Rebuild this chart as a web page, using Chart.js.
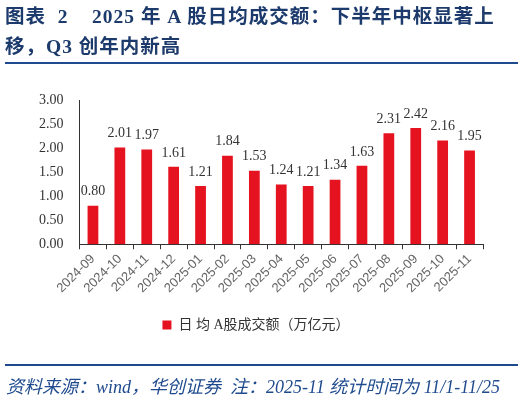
<!DOCTYPE html>
<html>
<head>
<meta charset="utf-8">
<script src="https://cdn.jsdelivr.net/npm/chart.js@4"></script>
<style>
  html, body { margin: 0; padding: 0; background: #fff; }
  #wrap { position: relative; width: 524px; height: 400px; overflow: hidden; }
  #titulo {
    position: absolute; left: 5px; top: 2px; width: 519px;
    font-family: "Liberation Serif", "Noto Sans CJK SC", serif;
    font-weight: bold; font-size: 19.5px; line-height: 30px;
    color: #1c3a6b; letter-spacing: 1px; white-space: nowrap;
  }
  #linea1 { position: absolute; left: 5px; top: 62px; width: 513px; height: 2px; background: #1f4b8e; }
  #linea2 { position: absolute; left: 5px; top: 364px; width: 513px; height: 2px; background: #1f4b8e; }
  #fuente {
    position: absolute; left: 6px; top: 372px;
    font-family: "Liberation Serif", "Noto Sans CJK SC", serif;
    font-style: italic; font-size: 18px; color: #1f4b8e; white-space: nowrap;
  }
  #grafico { position: absolute; left: 0; top: 0; }
</style>
</head>
<body>
<div id="wrap">
  <canvas id="grafico" width="524" height="400"></canvas>
  <div id="titulo">图表&nbsp; 2&nbsp;&nbsp;&nbsp; 2025 年 A 股日均成交额：下半年中枢显著上<br>移，Q3 创年内新高</div>
  <div id="linea1"></div>
  <div id="linea2"></div>
  <div id="fuente">资料来源：wind，华创证券&nbsp; 注：2025-11 统计时间为 11/1-11/25</div>
</div>
<script>
// Meses y montos diarios promedio (billones de yuanes)
const meses = ["2024-09", "2024-10", "2024-11", "2024-12", "2025-01", "2025-02", "2025-03", "2025-04",
               "2025-05", "2025-06", "2025-07", "2025-08", "2025-09", "2025-10", "2025-11"];
const montos = [0.80, 2.01, 1.97, 1.61, 1.21, 1.84, 1.53, 1.24, 1.21, 1.34, 1.63, 2.31, 2.42, 2.16, 1.95];
const etiquetasY = [0, 0.5, 1, 1.5, 2, 2.5, 3];

// Plugin sencillo para escribir el valor encima de cada barra
const valoresArriba = {
    id: 'valoresArriba',
    afterDatasetsDraw(chart) {
        const ctx = chart.ctx;
        const meta = chart.getDatasetMeta(0);
        ctx.save();
        ctx.font = '14px "Liberation Serif", serif';
        ctx.fillStyle = '#333';
        ctx.textAlign = 'center';
        ctx.textBaseline = 'bottom';
        meta.data.forEach((bar, i) => {
            ctx.fillText(montos[i].toFixed(2), bar.x, bar.y - 7);
        });
        ctx.restore();
    }
};

const ctx = document.getElementById('grafico').getContext('2d');
const grafico = new Chart(ctx, {
    type: 'bar',
    data: {
        labels: meses,
        datasets: [{
            label: '日 均 A股成交额（万亿元）',
            data: montos,
            backgroundColor: '#e5131f',
            barPercentage: 0.4,
            categoryPercentage: 1.0
        }]
    },
    options: {
        responsive: false,
        animation: false,
        layout: { padding: { top: 100, left: 29, right: 41, bottom: 58 } },
        scales: {
            y: {
                min: 0,
                max: 3,
                afterBuildTicks: (axis) => { axis.ticks = etiquetasY.map(v => ({ value: v })); },
                grid: { display: false, drawTicks: true, tickLength: 6, tickColor: '#333' },
                border: { color: '#333', width: 1 },
                ticks: {
                    color: '#333',
                    font: { family: '"Liberation Serif", serif', size: 14 },
                    padding: 10,
                    callback: (v) => Number(v).toFixed(2)
                }
            },
            x: {
                offset: true,
                grid: { display: true, drawOnChartArea: false, offset: true, tickLength: 5, tickColor: '#333' },
                border: { color: '#333', width: 1 },
                ticks: {
                    color: '#666',
                    maxRotation: 45,
                    minRotation: 45,
                    font: { family: '"Liberation Sans", sans-serif', size: 13 },
                    padding: 2
                }
            }
        },
        plugins: {
            legend: {
                position: 'bottom',
                labels: {
                    boxWidth: 9,
                    boxHeight: 9,
                    padding: 20,
                    color: '#333',
                    font: { family: '"Liberation Serif", "Noto Sans CJK SC", serif', size: 14 }
                }
            },
            tooltip: { enabled: false }
        }
    },
    plugins: [valoresArriba]
});
</script>
</body>
</html>
